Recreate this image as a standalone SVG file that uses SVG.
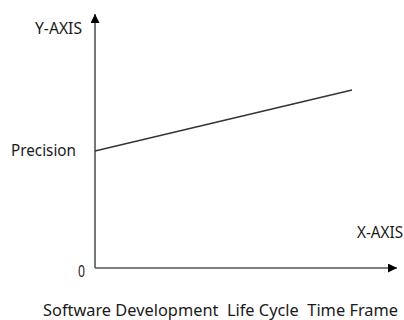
<svg xmlns="http://www.w3.org/2000/svg" width="404" height="320" viewBox="0 0 404 320">
<style>
text{font-family:"Noto Sans","Open Sans","Liberation Sans",sans-serif;font-size:16px;fill:#1a1a1a;white-space:pre}
.axis{stroke:#555;stroke-width:1.6;fill:none}
.curve{stroke:#333;stroke-width:1.3;fill:none}
</style>
<defs>
<marker id="arr" viewBox="0 0 10 10" refX="10" refY="5" markerWidth="9" markerHeight="9" orient="auto" markerUnits="userSpaceOnUse">
<path d="M0,0 L10,5 L0,10 z" fill="#000"/>
</marker>
</defs>
<g id="connectors">
<line class="axis" x1="95" y1="268" x2="95" y2="14" marker-end="url(#arr)"/>
<line class="axis" x1="95" y1="268" x2="397" y2="268" marker-end="url(#arr)"/>
<line class="curve" x1="95" y1="151" x2="352" y2="90"/>
</g>
<g id="labels">
<text x="35" y="33.5" textLength="47" lengthAdjust="spacingAndGlyphs">Y-AXIS</text>
<text x="11" y="156" textLength="65" lengthAdjust="spacingAndGlyphs">Precision</text>
<text x="78" y="277" textLength="7" lengthAdjust="spacingAndGlyphs">0</text>
<text x="357" y="238" textLength="46" lengthAdjust="spacingAndGlyphs">X-AXIS</text>
<text x="43" y="315.5" font-size="15" textLength="355" lengthAdjust="spacingAndGlyphs" xml:space="preserve">Software Development  Life Cycle  Time Frame</text>
</g>
</svg>
